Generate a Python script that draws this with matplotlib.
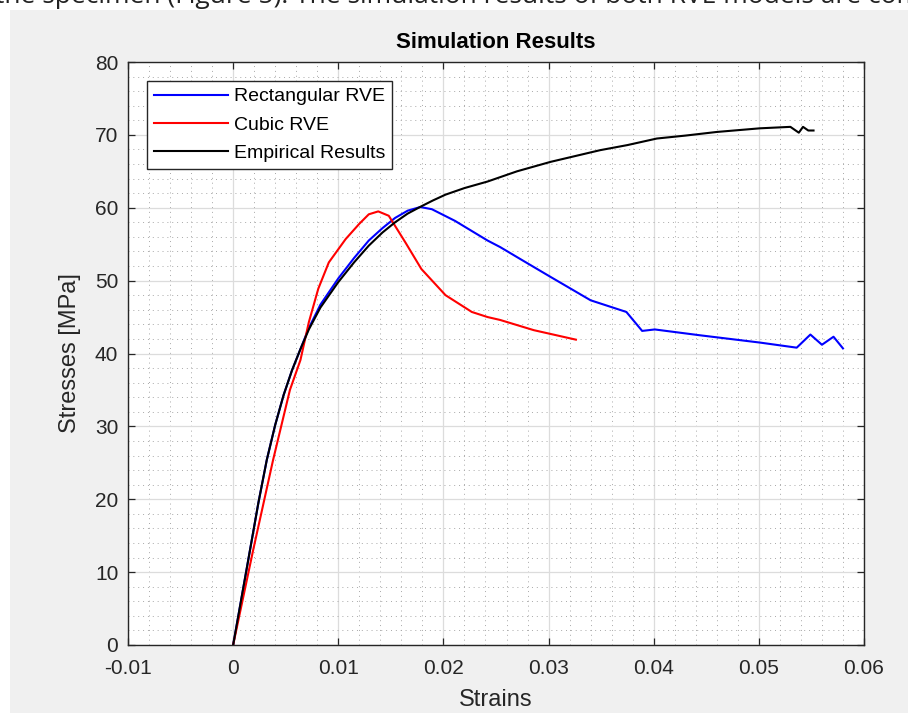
import matplotlib
matplotlib.use("Agg")
import matplotlib.pyplot as plt
from matplotlib.ticker import MultipleLocator
from matplotlib.patches import Rectangle

plt.rcParams['font.family'] = ['Liberation Sans', 'DejaVu Sans']

# values
rect_strain = [0.0, 0.0008, 0.0016, 0.0024, 0.0032, 0.0040, 0.0048, 0.0056, 0.0064,
               0.0072, 0.0083, 0.0100, 0.0115, 0.0129, 0.0142, 0.0154, 0.0166, 0.0178,
               0.0189, 0.0211, 0.0242, 0.0254, 0.0275, 0.0302, 0.0340, 0.0374, 0.0389,
               0.0401, 0.0444, 0.0501, 0.0536, 0.0549, 0.0560, 0.0571, 0.0580]
rect_stress = [0.0, 6.5, 13.0, 19.5, 25.4, 30.2, 34.3, 37.7, 40.6,
               43.5, 46.7, 50.3, 53.1, 55.5, 57.2, 58.6, 59.6, 60.1,
               59.8, 58.2, 55.5, 54.6, 52.8, 50.5, 47.3, 45.7, 43.1,
               43.3, 42.5, 41.5, 40.8, 42.6, 41.2, 42.3, 40.7]

cubic_strain = [0.0, 0.0019, 0.0038, 0.0054, 0.0064, 0.0072, 0.0081, 0.0091, 0.0107,
                0.0120, 0.0129, 0.0138, 0.0148, 0.0164, 0.0179, 0.0202, 0.0227, 0.0242,
                0.0254, 0.0286, 0.0326]
cubic_stress = [0.0, 13.0, 25.4, 35.0, 39.1, 44.3, 48.9, 52.5, 55.7,
                57.8, 59.1, 59.5, 58.9, 55.2, 51.6, 48.0, 45.7, 45.0,
                44.6, 43.2, 41.9]

emp_strain = [0.0, 0.0008, 0.0016, 0.0024, 0.0032, 0.0040, 0.0048, 0.0056, 0.0064,
              0.0072, 0.0083, 0.0100, 0.0115, 0.0129, 0.0142, 0.0154, 0.0166, 0.0179,
              0.0190, 0.0202, 0.0220, 0.0242, 0.0270, 0.0302, 0.0349, 0.0375, 0.0403,
              0.0430, 0.0460, 0.0501, 0.0530, 0.0538, 0.0542, 0.0547, 0.0552]
emp_stress = [0.0, 6.5, 13.0, 19.5, 25.4, 30.2, 34.3, 37.7, 40.6,
              43.3, 46.3, 49.8, 52.5, 54.8, 56.6, 58.0, 59.2, 60.2,
              61.0, 61.8, 62.7, 63.6, 65.0, 66.3, 67.9, 68.6, 69.5,
              69.9, 70.4, 70.9, 71.1, 70.3, 71.1, 70.6, 70.6]

fig = plt.figure(figsize=(9.08, 7.13), dpi=100)
fig.patch.set_facecolor('white')

# gray figure window of the screenshot
fig.patches.append(Rectangle((10 / 908, 0), 1, 1 - 10 / 713, transform=fig.transFigure,
                             facecolor='#f0f0f0', edgecolor='none', zorder=-10))
# cut-off document line above the screenshot
fig.text(-0.005, 1 - 3 / 713,
         "the specimen (Figure 5). The simulation results of both RVE models are compared with the test data",
         fontsize=19, color='#222222', va='baseline', family='Open Sans', zorder=-5)

ax = fig.add_axes([128 / 908, (713 - 645) / 713, (864 - 128) / 908, (645 - 62) / 713])
ax.set_facecolor('white')

ax.plot(rect_strain, rect_stress, color='#0000ff', lw=1.5, label='Rectangular RVE')
ax.plot(cubic_strain, cubic_stress, color='#ff0000', lw=1.5, label='Cubic RVE')
ax.plot(emp_strain, emp_stress, color='black', lw=1.5, label='Empirical Results')

ax.set_xlim(-0.01, 0.06)
ax.set_ylim(0, 80)
ax.set_xticks([-0.01, 0, 0.01, 0.02, 0.03, 0.04, 0.05, 0.06])
ax.set_xticklabels(['-0.01', '0', '0.01', '0.02', '0.03', '0.04', '0.05', '0.06'])
ax.yaxis.set_major_locator(MultipleLocator(10))
ax.xaxis.set_minor_locator(MultipleLocator(0.002))
ax.yaxis.set_minor_locator(MultipleLocator(2))

ax.grid(which='major', color='#dcdcdc', lw=0.9)
ax.grid(which='minor', color='#a8a8a8', lw=0.7, ls=(0, (1, 4)))
ax.set_axisbelow(True)

ax.tick_params(which='major', direction='in', length=5, width=0.9, top=True, right=True,
               labelsize=15, colors='#262626')
ax.tick_params(axis='x', pad=10)
ax.tick_params(axis='y', pad=7)
ax.tick_params(which='minor', length=0)
for s in ax.spines.values():
    s.set_color('#262626')
    s.set_linewidth(1.0)

ax.set_title('Simulation Results', fontsize=16, fontweight='bold', color='black', pad=10)
ax.set_xlabel('Strains', fontsize=17, color='#262626', labelpad=8)
ax.set_ylabel('Stresses [MPa]', fontsize=17, color='#262626', labelpad=10)

leg = ax.legend(loc='upper left', bbox_to_anchor=(19 / 736, 1 - 19 / 583), fontsize=14,
                handlelength=3.8, handletextpad=0.3, borderpad=0.35, labelspacing=0.55,
                fancybox=False, framealpha=1, borderaxespad=0)
leg.get_frame().set_edgecolor('#262626')
leg.get_frame().set_linewidth(1.0)

fig.savefig('out.png', dpi=100)
